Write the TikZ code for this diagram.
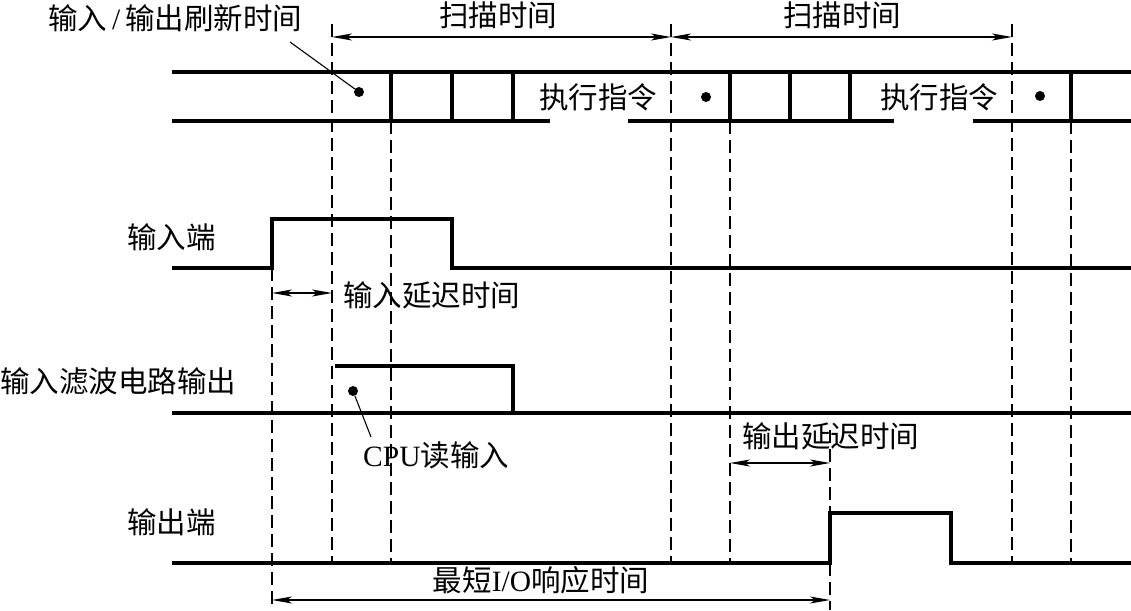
\documentclass[tikz,border=0pt]{standalone}
\usepackage{fontspec}
\setmainfont{Liberation Serif}
\newfontfamily\cjk{Noto Sans CJK SC}
\usetikzlibrary{arrows.meta,positioning}

\begin{document}
\begin{tikzpicture}[x=1pt,y=-1pt,font=\cjk\fontsize{29.5}{32}\selectfont,
  sig/.style={line width=3.2pt},
  guide/.style={line width=1.1pt,dash pattern=on 13pt off 6pt},
  dim/.style={line width=1.2pt,{Stealth[length=20pt,width=7pt,inset=5pt]}-{Stealth[length=20pt,width=7pt,inset=5pt]}},
  lbl/.style={inner sep=0pt},
  dot/.style={circle,fill,inner sep=0pt,minimum size=10pt}]
\useasboundingbox (0,0) rectangle (1131,610);
% scan band
\draw[sig] (172,72) -- (1131,72);
\draw[sig] (172,121) -- (550,121) (628,121) -- (894,121) (973,121) -- (1131,121);
\foreach \x in {391,452,513,730,790,850,1071} {\draw[sig] (\x,72) -- (\x,121);}
\node[lbl] (exec1) at (598,97) {执行指令};
\node[lbl] (exec2) at (939,97) {执行指令};
\node[dot] (ioDot) at (359,92) {};
\node[dot] (dotA) at (706,97) {};
\node[dot] (dotB) at (1040,96) {};
% guide lines
\foreach \x in {332,671,1012} {\draw[guide] (\x,24) -- (\x,563);}
\foreach \x in {391,730,1071} {\draw[guide] (\x,121) -- (\x,563);}
\draw[guide] (272,268) -- (272,610);
\draw[guide] (830,430) -- (830,610);
% scan time
\coordinate (s0) at (332,37); \coordinate (s1) at (671,37); \coordinate (s2) at (1012,37);
\draw[dim] (s0) -- (s1);
\draw[dim] (s1) -- (s2);
\node[lbl] (scan1) at (498,15) {扫描时间};
\node[lbl] (scan2) at (842,15) {扫描时间};
\node[lbl,anchor=west] (ioLbl) at (48,18) {输入{\rmfamily\,/\,}输出刷新时间};
\coordinate (ioTip) at (290,42);
\draw[line width=1.1pt] (ioTip) -- (ioDot);
% input
\node[lbl,anchor=west] (inLbl) at (127,237) {输入端};
\draw[sig] (172,268) -- (272,268) -- (272,219) -- (452,219) -- (452,268) -- (1131,268);
\coordinate (inA) at (272,293); \coordinate (inB) at (332,293);
\draw[dim] (inA) -- (inB);
\node[lbl,anchor=west] (inDelay) at (343,295) {输入延迟时间};
% filter output
\node[lbl,anchor=west] (filtLbl) at (0,381) {输入滤波电路输出};
\draw[sig] (172,413) -- (1131,413);
\draw[sig] (335,366) -- (513,366) -- (513,413);
\node[dot] (cpuDot) at (353,391) {};
\node[lbl,anchor=west] (cpuLbl) at (363,455) {{\rmfamily CPU}读输入};
\coordinate (cpuTip) at (371,437);
\draw[line width=1.1pt] (cpuDot) -- (cpuTip);
% output
\node[lbl,anchor=west] (outDelay) at (742,436) {输出延迟时间};
\coordinate (outA) at (730,463); \coordinate (outB) at (830,463);
\draw[dim] (outA) -- (outB);
\node[lbl,anchor=west] (outLbl) at (127,522) {输出端};
\draw[sig] (172,563) -- (830,563) -- (830,513) -- (951,513) -- (951,563) -- (1131,563);
% response time
\coordinate (rA) at (272,600); \coordinate (rB) at (830,600);
\draw[dim] (rA) -- (rB);
\node[lbl] (respLbl) at (541,580) {最短{\rmfamily I/O}响应时间};
\end{tikzpicture}
\end{document}
